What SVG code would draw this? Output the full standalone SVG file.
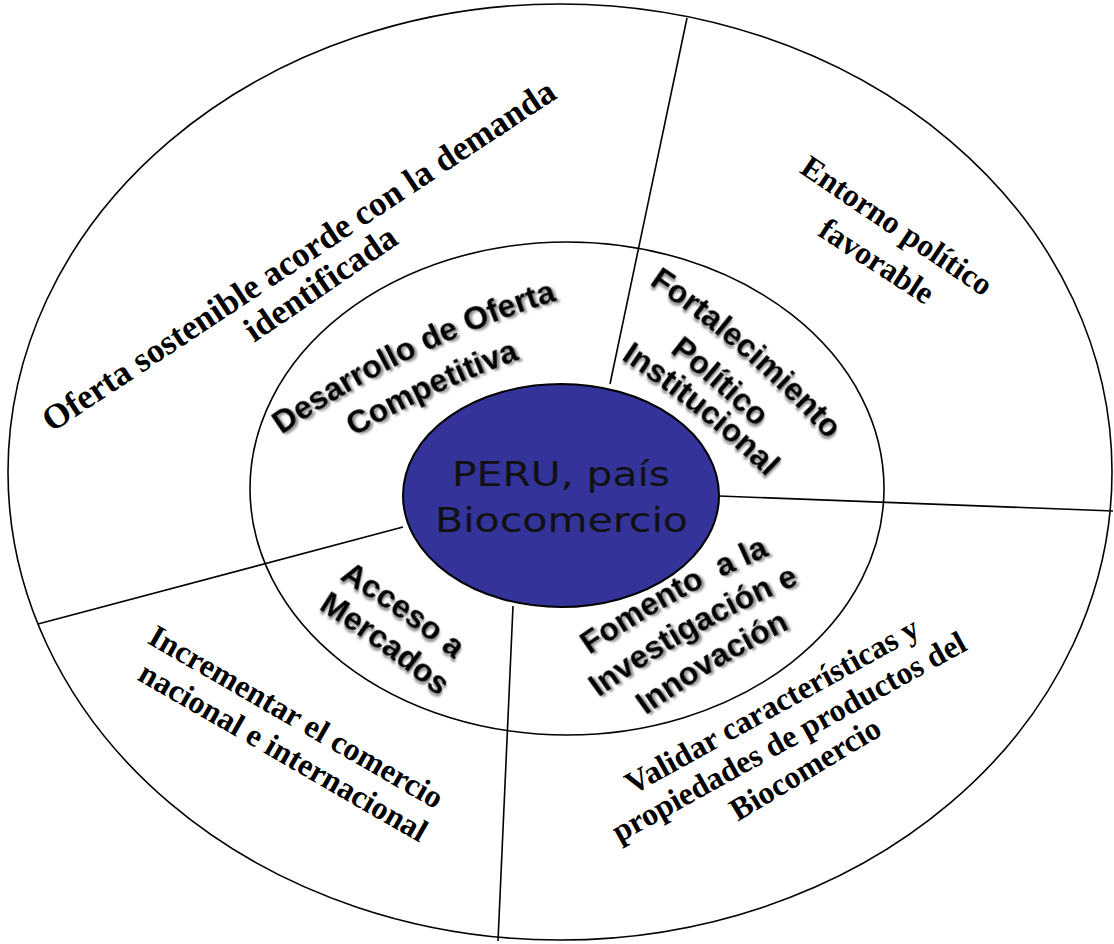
<svg xmlns="http://www.w3.org/2000/svg" xmlns:xlink="http://www.w3.org/1999/xlink" width="1114" height="944" viewBox="0 0 1114 944">
<style>
.ring{fill:none;stroke:#000;stroke-width:1.6}
.conn{stroke:#000;stroke-width:1.6;fill:none}
.serif{font-family:"Liberation Serif","Times New Roman",serif;font-weight:bold;font-size:32px;fill:#000;text-anchor:middle}
.sans{font-family:"Liberation Sans",Arial,sans-serif;font-weight:bold;font-size:32px;fill:#000;text-anchor:middle;filter:url(#shadow)}
.core{font-family:"DejaVu Sans",Verdana,sans-serif;font-size:34px;fill:#111;text-anchor:middle}
</style>
<defs>
<filter id="shadow" x="-20%" y="-50%" width="140%" height="200%">
<feDropShadow dx="2" dy="2.5" stdDeviation="1.3" flood-color="#000" flood-opacity="0.45"/>
</filter>
<path id="arc" d="M-300 46.06 A1000 1000 0 0 1 300 46.06"/>
</defs>
<rect width="1114" height="944" fill="#fff"/>
<g id="outer-ring"><ellipse class="ring" cx="560" cy="472" rx="552" ry="468"/></g>
<g id="middle-ring"><ellipse class="ring" cx="567" cy="488.5" rx="317" ry="246.5"/></g>
<g id="connectors">
<line class="conn" x1="610" y1="384" x2="687" y2="18"/>
<line class="conn" x1="719" y1="496" x2="1113" y2="511"/>
<line class="conn" x1="513" y1="606" x2="498" y2="941"/>
<line class="conn" x1="403" y1="527" x2="38" y2="624"/>
</g>
<g id="center">
<ellipse cx="561" cy="495.5" rx="158" ry="111.5" fill="#333399" stroke="#000" stroke-width="2"/>
<text class="core" x="561" y="486" textLength="218" lengthAdjust="spacingAndGlyphs">PERU, país</text>
<text class="core" x="561.5" y="532" textLength="253" lengthAdjust="spacingAndGlyphs">Biocomercio</text>
</g>
<g id="desarrollo">
<text class="sans" transform="translate(414 357) rotate(-26)"><textPath xlink:href="#arc" href="#arc" startOffset="50%">Desarrollo de Oferta</textPath></text>
<text class="sans" transform="translate(435 394) rotate(-25)"><textPath xlink:href="#arc" href="#arc" startOffset="50%">Competitiva</textPath></text>
</g>
<g id="fortalecimiento">
<text class="sans" transform="translate(743 356.5) rotate(41)"><textPath xlink:href="#arc" href="#arc" startOffset="50%">Fortalecimiento</textPath></text>
<text class="sans" transform="translate(714 388.5) rotate(41)"><textPath xlink:href="#arc" href="#arc" startOffset="50%">Político</textPath></text>
<text class="sans" transform="translate(696.5 414.5) rotate(39)"><textPath xlink:href="#arc" href="#arc" startOffset="50%">Institucional</textPath></text>
</g>
<g id="acceso">
<text class="sans" transform="translate(398 617) rotate(35)"><textPath xlink:href="#arc" href="#arc" startOffset="50%">Acceso a</textPath></text>
<text class="sans" transform="translate(380 650.5) rotate(36)"><textPath xlink:href="#arc" href="#arc" startOffset="50%">Mercados</textPath></text>
</g>
<g id="fomento">
<text class="sans" xml:space="preserve" transform="translate(677 600.5) rotate(-29)"><textPath xlink:href="#arc" href="#arc" startOffset="50%" xml:space="preserve">Fomento  a la</textPath></text>
<text class="sans" transform="translate(695.5 635) rotate(-29.5)"><textPath xlink:href="#arc" href="#arc" startOffset="50%">Investigación e</textPath></text>
<text class="sans" transform="translate(716 669) rotate(-31)"><textPath xlink:href="#arc" href="#arc" startOffset="50%">Innovación</textPath></text>
</g>
<g id="oferta">
<text class="serif" style="font-size:35px" transform="translate(305 265) rotate(-33.5)">Oferta sostenible acorde con la demanda</text>
<text class="serif" style="font-size:35px" transform="translate(327 293) rotate(-34.5)">identificada</text>
</g>
<g id="entorno">
<text class="serif" transform="translate(891 234.5) rotate(34)">Entorno político</text>
<text class="serif" transform="translate(871 270) rotate(33)">favorable</text>
</g>
<g id="incrementar">
<text class="serif" transform="translate(291 726) rotate(30)">Incrementar el comercio</text>
<text class="serif" transform="translate(278 761) rotate(30)">nacional e internacional</text>
</g>
<g id="validar">
<text class="serif" transform="translate(777 715) rotate(-29)">Validar características y</text>
<text class="serif" transform="translate(794 746) rotate(-29)">propiedades de productos del</text>
<text class="serif" transform="translate(810.5 778) rotate(-31)">Biocomercio</text>
</g>
</svg>
